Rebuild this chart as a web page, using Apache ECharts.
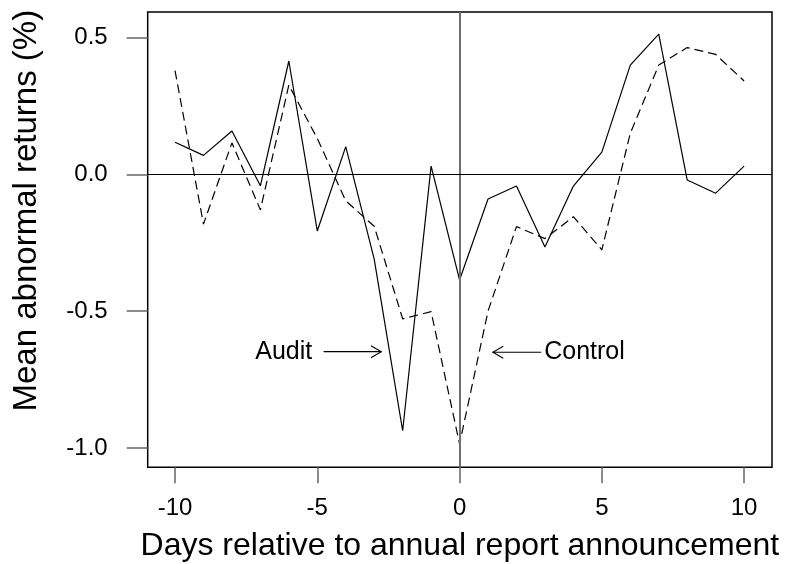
<!DOCTYPE html>
<html>
<head>
<meta charset="utf-8">
<script src="https://cdn.jsdelivr.net/npm/echarts@6/dist/echarts.min.js"></script>
<style>
html,body{margin:0;padding:0;background:#fff;}
#chart{width:811px;height:564px;}
</style>
</head>
<body>
<div id="chart"></div>
<script>
// ---- data ----
const days = [-10,-9,-8,-7,-6,-5,-4,-3,-2,-1,0,1,2,3,4,5,6,7,8,9,10];
const audit = [0.117,0.069,0.158,-0.042,0.414,-0.207,0.101,-0.31,-0.937,0.030,-0.386,-0.090,-0.043,-0.266,-0.043,0.081,0.399,0.512,-0.021,-0.069,0.030];
const control = [0.379,-0.182,0.115,-0.130,0.326,0.131,-0.097,-0.19,-0.528,-0.502,-0.985,-0.500,-0.191,-0.235,-0.155,-0.276,0.150,0.399,0.463,0.438,0.341];
const xTicks = [-10,-5,0,5,10];
const yTicks = [-1.0,-0.5,0.0,0.5];
const xTitle = 'Days relative to annual report announcement';
const yTitle = 'Mean abnormal returns (%)';
// annotations (data coordinates)
const annLabels = ['Audit','Control'];
const annTextAt = [[-6.18,-0.648],[4.39,-0.650]];
const annArrowFrom = [[-4.78,-0.648],[2.87,-0.650]];
const annArrowTo = [[-2.75,-0.648],[1.17,-0.650]];

const FONT = '"Liberation Sans", Arial, sans-serif';
const chart = echarts.init(document.getElementById('chart'), null, {renderer:'canvas'});

function renderAnn(params, api){
  const i = params.dataIndex;
  const t = api.coord(annTextAt[i]);
  const a = api.coord(annArrowFrom[i]);
  const b = api.coord(annArrowTo[i]);
  const dx = b[0]-a[0], dy = b[1]-a[1];
  const L = Math.sqrt(dx*dx+dy*dy);
  const ux = dx/L, uy = dy/L;
  const hl = 12, ang = Math.PI/6;
  const c = Math.cos(ang), s = Math.sin(ang);
  const h1 = [b[0]-hl*(ux*c - uy*s), b[1]-hl*(uy*c + ux*s)];
  const h2 = [b[0]-hl*(ux*c + uy*s), b[1]-hl*(uy*c - ux*s)];
  return {
    type:'group',
    children:[
      {type:'polyline', shape:{points:[a,b]}, style:{stroke:'#000', lineWidth:1.1, fill:null}},
      {type:'polyline', shape:{points:[h1,b,h2]}, style:{stroke:'#000', lineWidth:1.1, fill:null}},
      {type:'text', x:t[0], y:t[1], style:{text:annLabels[i], fill:'#000', font:'25px '+FONT, align:'center', verticalAlign:'middle'}}
    ]
  };
}

const option = {
  animation:false,
  backgroundColor:'#fff',
  grid:{left:147.7, right:39, top:12, bottom:96.7, show:true, borderColor:'#000', borderWidth:1.5, backgroundColor:'transparent', containLabel:false, outerBoundsMode:'none'},
  xAxis:{
    type:'value', min:-10.96, max:10.98,
    name:xTitle, nameLocation:'middle', nameGap:63,
    nameTextStyle:{fontSize:32, color:'#000', fontFamily:FONT},
    axisLine:{show:false, onZero:false},
    splitLine:{show:false},
    axisTick:{show:true, customValues:xTicks, length:16, lineStyle:{color:'#666', width:1.5}},
    axisLabel:{customValues:xTicks, fontSize:24, color:'#000', fontFamily:FONT, margin:29, formatter:v=>String(Math.round(v))}
  },
  yAxis:{
    type:'value', min:-1.0705, max:0.593,
    name:yTitle, nameLocation:'middle', nameGap:104,
    nameTextStyle:{fontSize:33, color:'#000', fontFamily:FONT, padding:[0,0,0,58]},
    axisLine:{show:false, onZero:false},
    splitLine:{show:false},
    axisTick:{show:true, customValues:yTicks, length:21, lineStyle:{color:'#666', width:1.5}},
    axisLabel:{customValues:yTicks, fontSize:24, color:'#000', fontFamily:FONT, margin:40, formatter:v=>v.toFixed(1)}
  },
  series:[
    {
      name:'Audit', type:'line', data:days.map((d,i)=>[d,audit[i]]),
      symbol:'none', showSymbol:false,
      lineStyle:{color:'#000', width:1.2, type:'solid'},
      markLine:{
        silent:true, symbol:'none', animation:false, label:{show:false},
        data:[
          {xAxis:0, lineStyle:{color:'#6e6e6e', width:2, type:'solid'}},
          {yAxis:0, lineStyle:{color:'#000', width:1, type:'solid'}}
        ]
      },
      z:3
    },
    {
      name:'Control', type:'line', data:days.map((d,i)=>[d,control[i]]),
      symbol:'none', showSymbol:false,
      lineStyle:{color:'#000', width:1.2, type:[9,5]},
      z:3
    },
    {
      type:'custom', renderItem:renderAnn, silent:true,
      data:annLabels.map((l,i)=>[annTextAt[i][0], annTextAt[i][1]]),
      encode:{x:0,y:1}, z:4
    }
  ]
};
chart.setOption(option);
</script>
</body>
</html>
